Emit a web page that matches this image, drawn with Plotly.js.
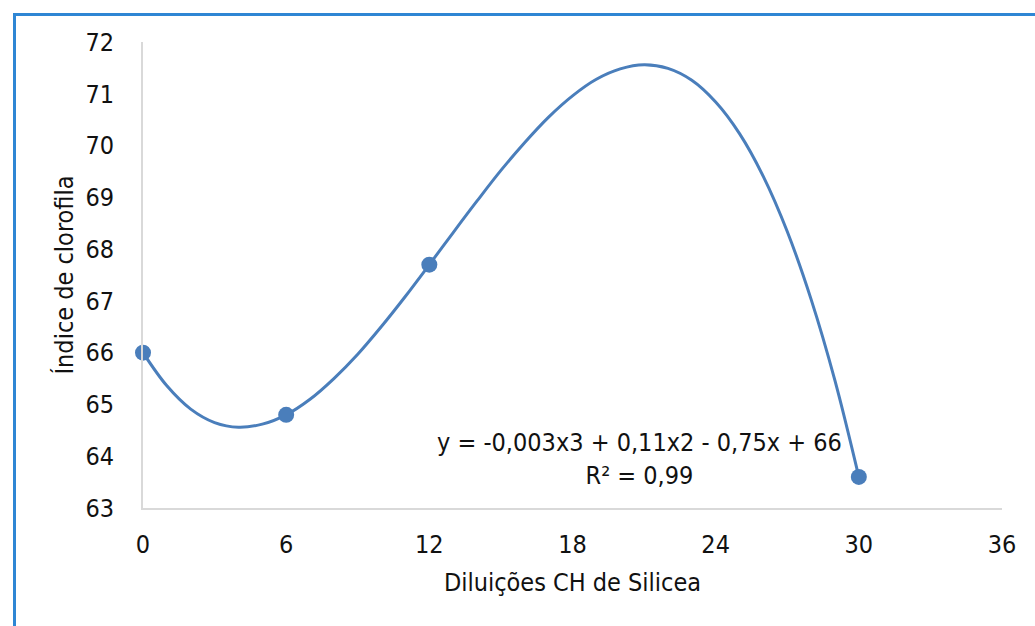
<!DOCTYPE html>
<html>
<head>
<meta charset="utf-8">
<script src="https://cdn.plot.ly/plotly-3.0.1.min.js"></script>
<style>
  html, body { margin: 0; padding: 0; background: #fff; }
  #wrap { position: relative; width: 1035px; height: 626px; }
  #chart { width: 1035px; height: 626px; }
  #frame { position: absolute; left: 13px; top: 13px; right: 0; bottom: 0;
           border-left: 3px solid #2e86d4; border-top: 3px solid #2e86d4;
           pointer-events: none; }
</style>
</head>
<body>
<div id="wrap">
  <div id="chart"></div>
  <div id="frame"></div>
</div>
<script>
// Observed data
const dilutions = [0, 6, 12, 30];
const chlorophyll = [66.0, 64.8, 67.7, 63.6];

// Polynomial trendline
const trendX = [0, 1, 2, 3, 4, 5, 6, 7, 8, 9, 10, 11, 12, 13, 14, 15, 16, 17, 18, 19, 20, 21, 22, 23, 24, 25, 26, 27, 28, 29, 30];
const trendY = [66.0, 65.36, 64.91, 64.65, 64.56, 64.62, 64.8, 65.1, 65.5, 65.97, 66.51, 67.09, 67.7, 68.32, 68.93, 69.52, 70.06, 70.55, 70.96, 71.28, 71.48, 71.56, 71.49, 71.26, 70.84, 70.23, 69.4, 68.34, 67.03, 65.46, 63.6];

const xTicks = [0, 6, 12, 18, 24, 30, 36];
const yTicks = [63, 64, 65, 66, 67, 68, 69, 70, 71, 72];

const equationText = 'y = -0,003x3 + 0,11x2 - 0,75x + 66<br>R² = 0,99';
const xTitle = 'Diluições CH de Silicea';
const yTitle = 'Índice de clorofila';

const FONT = '"Liberation Sans Narrow", "DejaVu Sans Condensed", "Liberation Sans", sans-serif';
const blue = '#4a7ebb';
const ink = '#111111';

const traces = [
  {
    x: trendX, y: trendY, type: 'scatter', mode: 'lines',
    line: { color: blue, width: 3, shape: 'spline', smoothing: 1 },
    hoverinfo: 'skip', showlegend: false
  },
  {
    x: dilutions, y: chlorophyll, type: 'scatter', mode: 'markers',
    marker: { color: blue, size: 16 },
    showlegend: false, cliponaxis: false
  }
];

const layout = {
  width: 1035, height: 626,
  margin: { l: 143, r: 33, t: 42, b: 118 },
  paper_bgcolor: '#ffffff', plot_bgcolor: '#ffffff',
  font: { family: FONT, size: 25, color: ink },
  showlegend: false,
  xaxis: {
    range: [0, 36], tickvals: xTicks, ticktext: xTicks.map(String),
    showgrid: false, zeroline: false,
    showline: true, linecolor: '#d9d9d9', linewidth: 2,
    ticks: '', ticklabelstandoff: 13,
    tickfont: { family: FONT, size: 25, color: ink },
    title: { text: xTitle, font: { family: FONT, size: 25, color: ink }, standoff: 15 }
  },
  yaxis: {
    range: [63, 72], tickvals: yTicks, ticktext: yTicks.map(String),
    showgrid: false, zeroline: false,
    showline: true, linecolor: '#d9d9d9', linewidth: 2,
    ticks: '', ticklabelstandoff: 22,
    tickfont: { family: FONT, size: 25, color: ink },
    title: { text: yTitle, font: { family: FONT, size: 25, color: ink }, standoff: 5 }
  },
  annotations: [
    {
      x: 20.8, y: 63.95, xref: 'x', yref: 'y',
      text: equationText, showarrow: false, align: 'center',
      font: { family: FONT, size: 25, color: ink }
    }
  ]
};

Plotly.newPlot('chart', traces, layout, { displayModeBar: false, staticPlot: true });
</script>
</body>
</html>
